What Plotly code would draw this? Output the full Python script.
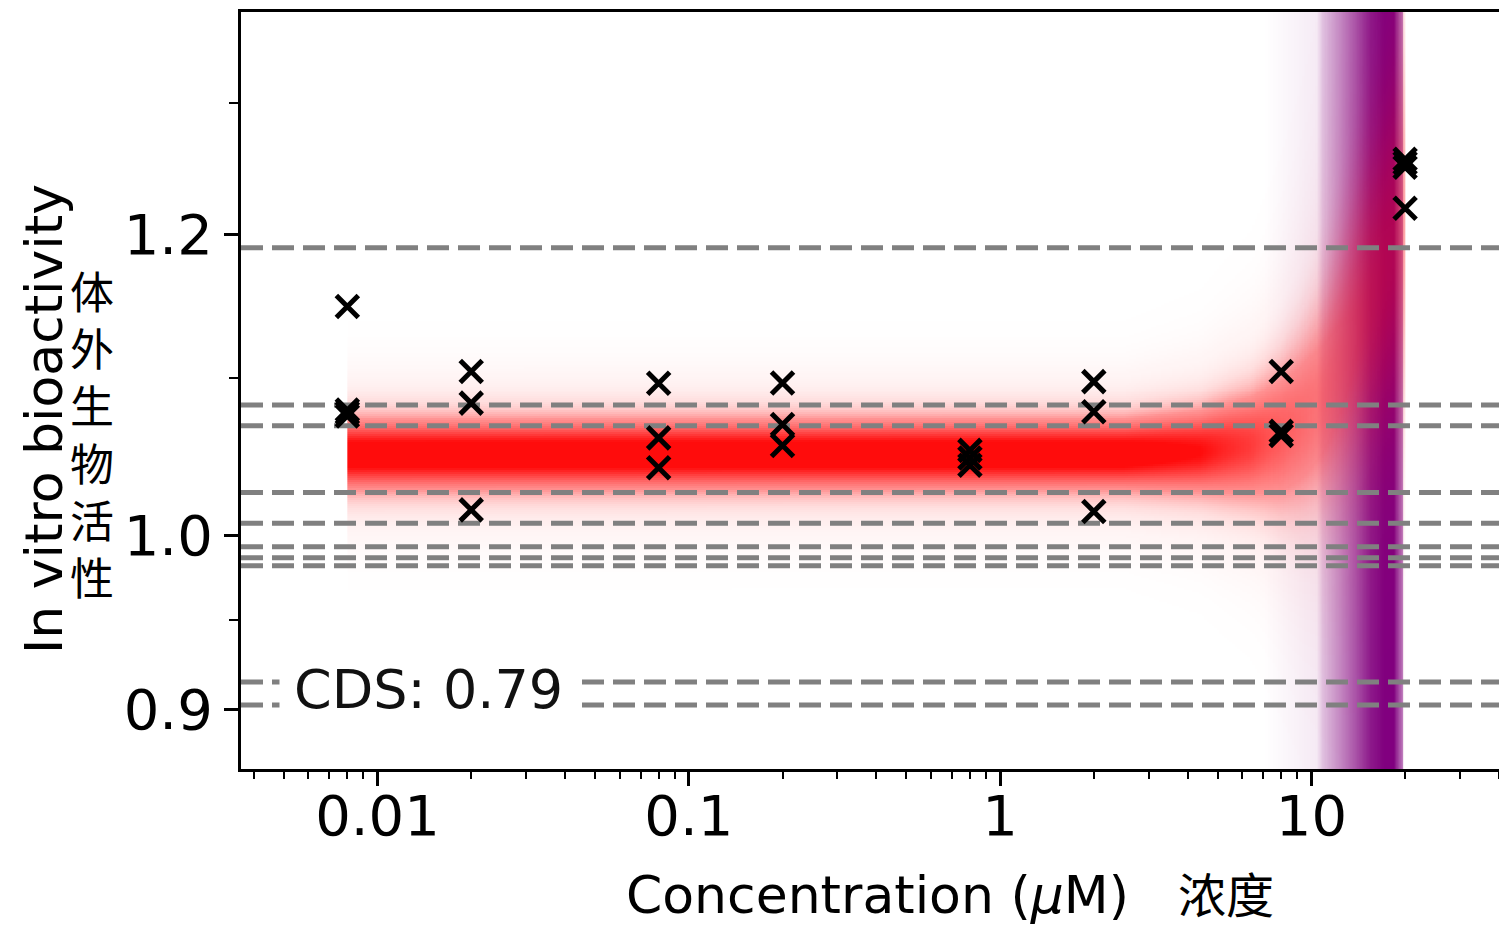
import numpy as np
import plotly.graph_objects as go

# ---------------- data ----------------
# measured points (concentration in uM, response)
conc = [0.008, 0.008, 0.008, 0.008,
        0.02, 0.02, 0.02,
        0.08, 0.08, 0.08,
        0.2, 0.2, 0.2,
        0.8, 0.8, 0.8,
        2, 2, 2,
        8, 8, 8,
        20, 20, 20, 20]
resp = [1.1489, 1.0790, 1.0771, 1.0751,
        1.1044, 1.0835, 1.0156,
        1.0966, 1.0609, 1.0418,
        1.0968, 1.0696, 1.0560,
        1.0529, 1.0481, 1.0434,
        1.0977, 1.0779, 1.0146,
        1.1044, 1.0651, 1.0625,
        1.2562, 1.2532, 1.2501, 1.2193]

# dashed horizontal reference lines
threshold_lines = [1.1905, 1.0823, 1.0688, 1.0263, 1.0074,
                   0.9932, 0.9866, 0.9817, 0.9149, 0.9023]

# red fitted-curve band: centre and spread (log10 units) along concentration
band_conc = [0.008, 2.5, 4.4, 6.4, 8.0, 9.2, 10.9, 12.8, 15.5, 20.0]
band_center = [1.0500, 1.0502, 1.0520, 1.0560, 1.0620, 1.0700, 1.0860, 1.1120, 1.1530, 1.2100]
band_sigma = [0.0050, 0.0050, 0.0062, 0.0085, 0.0115, 0.0140, 0.0175, 0.0215, 0.0260, 0.0310]

# purple vertical band: intensity profile along concentration
purple_conc = [7.0, 8.5, 10.4, 10.9, 12.2, 14.0, 15.5, 17.2, 18.4, 19.0, 19.7]
purple_level = [0.0, 0.04, 0.08, 0.25, 0.44, 0.69, 0.9, 1.0, 1.0, 0.75, 0.5]

x_tick_vals = [0.01, 0.1, 1, 10]
x_tick_text = ["0.01", "0.1", "1", "10"]
y_tick_vals = [0.9, 1.0, 1.2]
y_tick_text = ["0.9", "1.0", "1.2"]
y_minor_vals = [0.95, 1.1, 1.3]

cds_text = "CDS: 0.79"
x_title = "Concentration (<i>μ</i>M)"
x_title_cn = "浓度"
y_title = "In vitro bioactivity"
y_title_cn = "体外生物活性"

# axis ranges (log10)
XMIN, XMAX = -2.4385, 1.6027
YMIN, YMAX = -0.0615, 0.1378

x_minor_vals = [k * 10.0 ** e for e in range(-3, 2) for k in range(2, 10)
                if XMIN <= np.log10(k * 10.0 ** e) <= XMAX]

# ---------------- build density images ----------------
# red band
nx, ny = 420, 380
rx_edges = np.logspace(np.log10(band_conc[0]), np.log10(band_conc[-1]), nx + 1)
ry_edges = np.logspace(YMIN, YMAX, ny + 1)
lx = 0.5 * (np.log10(rx_edges[:-1]) + np.log10(rx_edges[1:]))
ly = 0.5 * (np.log10(ry_edges[:-1]) + np.log10(ry_edges[1:]))
c = np.interp(lx, np.log10(band_conc), np.log10(band_center))
s = np.interp(lx, np.log10(band_conc), band_sigma)
d = ly[:, None] - c[None, :]
amp = (s[0] / s) ** 0.9
rz = amp[None, :] * (0.92 * np.exp(-0.5 * (d / s[None, :]) ** 2)
                     + 0.12 * np.exp(-0.5 * (d / (2.3 * s[None, :])) ** 2))
rz = np.clip(rz, 0, 1)

# purple band
px_edges = np.logspace(np.log10(purple_conc[0]), np.log10(purple_conc[-1]), 241)
pxc = 0.5 * (np.log10(px_edges[:-1]) + np.log10(px_edges[1:]))
pz = np.interp(pxc, np.log10(purple_conc), purple_level)[None, :]
py_edges = [10 ** YMIN, 10 ** YMAX]

red_cs = [[0.0, "rgba(255,12,12,0)"], [0.25, "rgba(255,12,12,0.45)"],
          [0.85, "rgba(255,12,12,1)"], [1.0, "rgba(255,12,12,1)"]]
purple_cs = [[0.0, "rgba(128,0,128,0)"], [1.0, "rgba(128,0,128,1)"]]

fig = go.Figure()
fig.add_trace(go.Heatmap(x=px_edges, y=py_edges, z=pz, colorscale=purple_cs,
                         zmin=0, zmax=1, showscale=False, hoverinfo="skip"))
fig.add_trace(go.Heatmap(x=rx_edges, y=ry_edges, z=rz, colorscale=red_cs,
                         zmin=0, zmax=1, showscale=False, hoverinfo="skip"))

for v in threshold_lines:
    fig.add_trace(go.Scatter(x=[10 ** XMIN, 10 ** XMAX], y=[v, v], mode="lines",
                             line=dict(color="#808080", width=5, dash="22px,9px"),
                             hoverinfo="skip", showlegend=False))

fig.add_trace(go.Scatter(x=conc, y=resp, mode="markers",
                         marker=dict(symbol="x-thin", size=22, color="black",
                                     line=dict(width=5, color="black")),
                         showlegend=False))

# layout in screen pixels (body margin removed by post_script)
W, H = 1499, 925
L = 241
T = 12
BOTTOM = 769
R = 0
B = H - BOTTOM
pw, ph = W - L - R, H - T - B


def pxx(x):
    return (x - L) / pw


def pxy(y):
    return (BOTTOM - y) / ph


fig.update_layout(
    width=W, height=H,
    margin=dict(l=L, r=R, t=T, b=B, pad=0),
    paper_bgcolor="white", plot_bgcolor="white",
    showlegend=False,
    font=dict(family="DejaVu Sans", color="black"),
    xaxis=dict(type="log", range=[XMIN, XMAX], tickmode="array",
               tickvals=x_tick_vals, ticktext=x_tick_text,
               ticks="outside", ticklen=14, tickwidth=2.5, tickcolor="black",
               ticklabelstandoff=-18,
               showline=True, linewidth=3, linecolor="black", mirror=True,
               showgrid=False, zeroline=False,
               tickfont=dict(family="DejaVu Sans", size=56, color="black"),
               minor=dict(tickmode="array", tickvals=x_minor_vals, ticks="outside",
                          ticklen=7, tickwidth=2, tickcolor="black", showgrid=False)),
    yaxis=dict(type="log", range=[YMIN, YMAX], tickmode="array",
               tickvals=y_tick_vals, ticktext=y_tick_text,
               ticks="outside", ticklen=14, tickwidth=2.5, tickcolor="black",
               showline=True, linewidth=3, linecolor="black", mirror=False,
               showgrid=False, zeroline=False,
               tickfont=dict(family="DejaVu Sans", size=56, color="black"),
               minor=dict(tickmode="array", tickvals=y_minor_vals, ticks="outside",
                          ticklen=9, tickwidth=2, tickcolor="black", showgrid=False)),
    annotations=[
        dict(text=cds_text, xref="paper", yref="paper", x=pxx(279), y=pxy(689),
             xanchor="left", yanchor="middle", showarrow=False,
             font=dict(family="DejaVu Sans", size=54, color="#111111"),
             bgcolor="white", borderpad=14),
        dict(text=x_title, xref="paper", yref="paper", x=pxx(877), y=pxy(895),
             xanchor="center", yanchor="middle", showarrow=False,
             font=dict(family="DejaVu Sans", size=52, color="black")),
        dict(text=x_title_cn, xref="paper", yref="paper", x=pxx(1226), y=pxy(892),
             xanchor="center", yanchor="middle", showarrow=False,
             font=dict(family="Noto Sans CJK SC", size=48, color="black")),
        dict(text=y_title, xref="paper", yref="paper", x=pxx(44), y=pxy(419),
             xanchor="center", yanchor="middle", showarrow=False, textangle=-90,
             font=dict(family="DejaVu Sans", size=52, color="black")),
        dict(text="<br>".join(list(y_title_cn)), xref="paper", yref="paper",
             x=pxx(92), y=pxy(433), xanchor="center", yanchor="middle",
             showarrow=False,
             font=dict(family="Noto Sans CJK SC", size=44, color="black")),
    ],
)

fig.write_html("out.html",
               config={"displayModeBar": False},
               post_script="document.body.style.margin='0';"
                           "document.body.style.overflow='hidden';")
